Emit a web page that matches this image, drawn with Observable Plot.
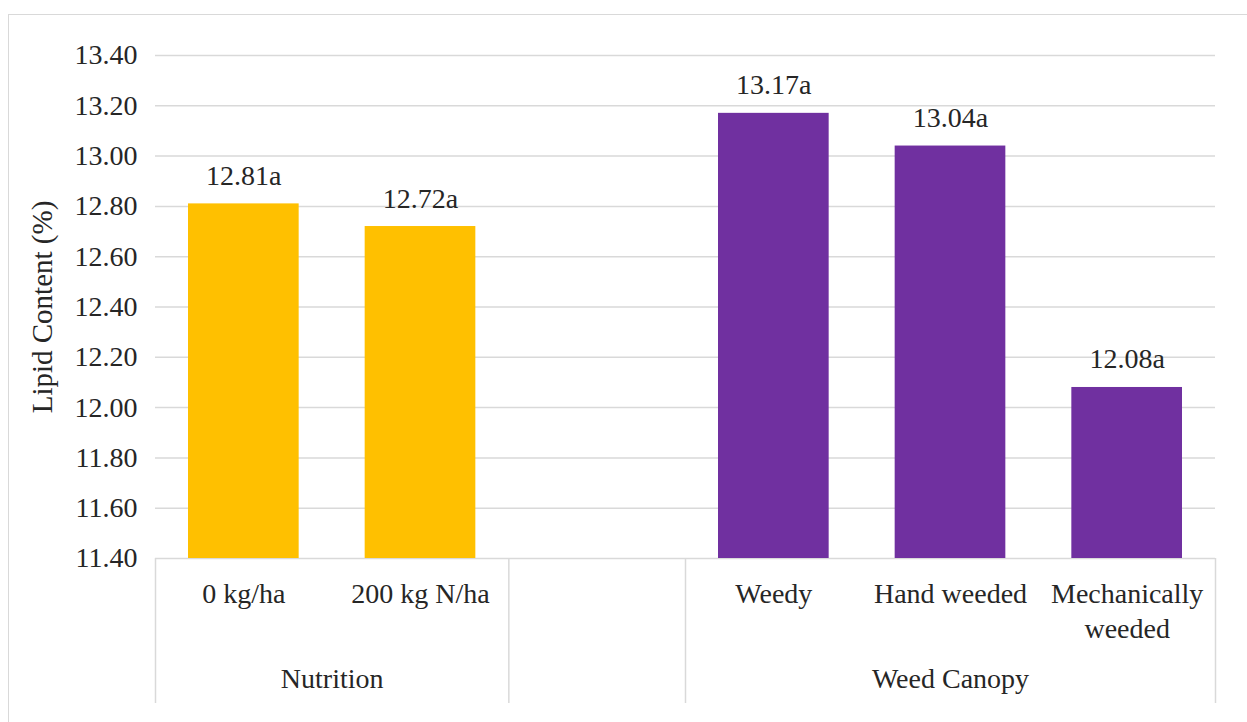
<!DOCTYPE html>
<html>
<head>
<meta charset="utf-8">
<script src="https://cdn.jsdelivr.net/npm/d3@7"></script>
<script src="https://cdn.jsdelivr.net/npm/@observablehq/plot@0.6"></script>
<style>
  html, body { margin: 0; padding: 0; background: #fff; overflow: hidden; }
  #wrap { position: relative; width: 1247px; height: 722px; }
  #border { position: absolute; left: 8px; top: 14px; width: 1260px; height: 740px; border: 1.5px solid #d9d9d9; box-sizing: border-box; }
  #chart { position: absolute; left: 0; top: 0; }
  #chart svg, #chart svg text { font-family: "Liberation Serif", "Times New Roman", serif !important; }
</style>
</head>
<body>
<div id="wrap"><div id="border"></div><div id="chart"></div></div>
<script>
// Categories in order (empty slot separates the two groups)
const categories = ["0 kg/ha", "200 kg N/ha", "", "Weedy", "Hand weeded", "Mechanically\nweeded"];
const values = [12.81, 12.72, null, 13.17, 13.04, 12.08];
const letters = ["a", "a", "", "a", "a", "a"];
const groupNames = ["Nutrition", "", "Weed Canopy"];
const groupSizes = [2, 1, 3];
const groupColors = ["#FFC000", "#FFC000", "#7030A0"];
const yTicks = [11.4, 11.6, 11.8, 12.0, 12.2, 12.4, 12.6, 12.8, 13.0, 13.2, 13.4];
const yLabel = "Lipid Content (%)";

const FONT = "Liberation Serif";
const INK = "#262626";

// Build tables
const groups = [];
let start = 0;
groupNames.forEach((g, k) => {
  groups.push({name: g, start, end: start + groupSizes[k], color: groupColors[k]});
  start += groupSizes[k];
});
const bars = categories.map((c, i) => {
  const g = groups.find(gr => i >= gr.start && i < gr.end);
  return {i, cat: c, value: values[i], letter: letters[i], color: g.color};
});
const barData = bars.filter(d => d.value != null);
const bounds = [...new Set(groups.flatMap(g => [g.start, g.end]))];
const yMin = yTicks[0], yMax = yTicks[yTicks.length - 1];

const chart = Plot.plot({
  width: 1247,
  height: 722,
  marginLeft: 155,
  marginRight: 32,
  marginTop: 55,
  marginBottom: 164,
  style: {fontFamily: FONT, fontSize: "28px", color: INK, background: "transparent", overflow: "visible"},
  x: {domain: [0, categories.length]},
  y: {domain: [yMin, yMax]},
  color: {type: "identity"},
  marks: [
    Plot.gridY(yTicks, {stroke: "#d9d9d9", strokeOpacity: 1, strokeWidth: 1.5}),
    Plot.axisY({ticks: yTicks, tickSize: 0, tickPadding: 18, tickFormat: d => d.toFixed(2), label: null, fill: INK, fontFamily: FONT}),
    Plot.axisX({ticks: bounds, tickSize: 145, tickFormat: () => "", label: null, stroke: "#d9d9d9", strokeWidth: 1.5}),
    Plot.rect(barData, {x1: "i", x2: d => d.i + 1, y1: () => yMin, y2: "value", fill: "color", insetLeft: 33, insetRight: 33}),
    Plot.text(barData, {x: d => d.i + 0.5, y: "value", text: d => d.value.toFixed(2) + d.letter, lineAnchor: "bottom", dy: -19, fill: INK, fontFamily: FONT}),
    Plot.text(bars, {x: d => d.i + 0.5, frameAnchor: "bottom", text: "cat", lineAnchor: "top", dy: 19, lineHeight: 1.26, fill: INK, fontFamily: FONT}),
    Plot.text(groups, {x: d => (d.start + d.end) / 2, frameAnchor: "bottom", text: "name", lineAnchor: "top", dy: 110, fill: INK, fontFamily: FONT}),
    Plot.text([yLabel], {frameAnchor: "left", textAnchor: "middle", text: d => d, rotate: -90, dx: -113, fill: INK, fontFamily: FONT, fontSize: 29})
  ]
});
document.getElementById("chart").appendChild(chart);
</script>
</body>
</html>
